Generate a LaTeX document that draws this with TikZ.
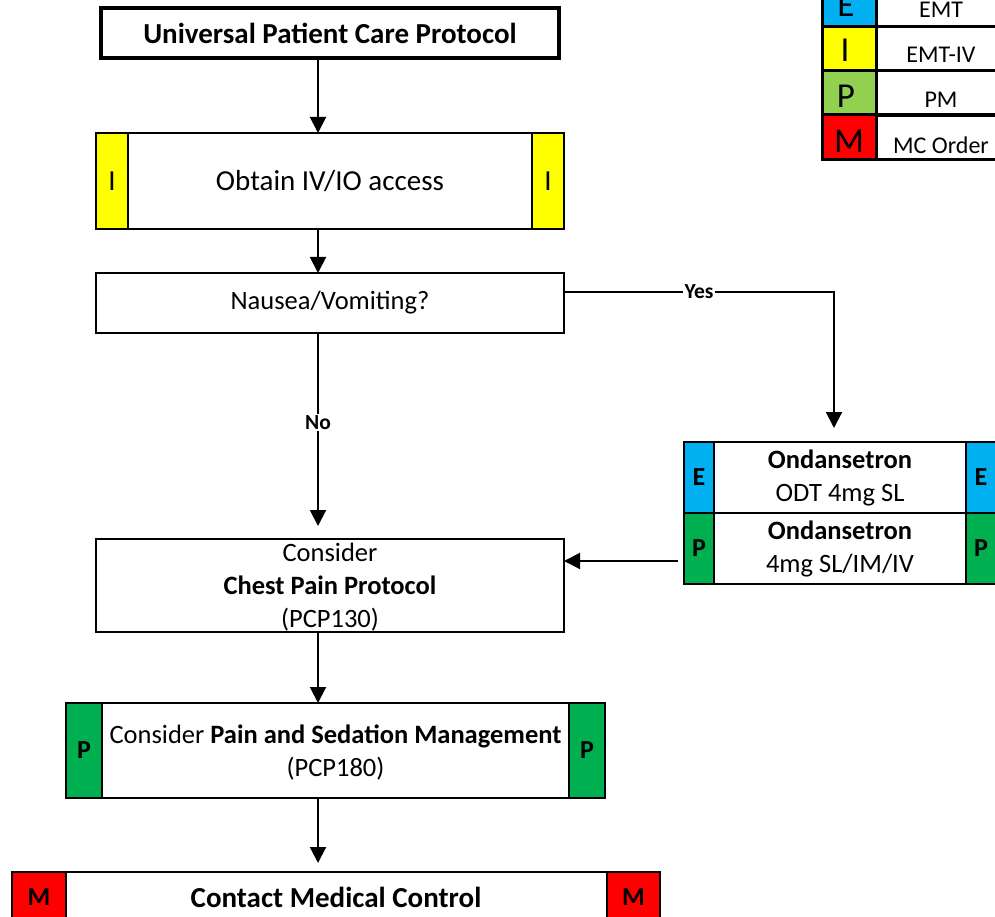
\documentclass[tikz,border=0pt]{standalone}
\usepackage{fontspec}
\setmainfont{Carlito}
\usetikzlibrary{arrows.meta}
\definecolor{cblue}{HTML}{00B0F0}
\definecolor{cyellow}{HTML}{FFFF00}
\definecolor{cgreen}{HTML}{00B050}
\definecolor{clgreen}{HTML}{92D050}
\definecolor{cred}{HTML}{FF0000}
\begin{document}
\begin{tikzpicture}[x=1pt,y=-1pt,
  box/.style={draw,line width=2pt,rectangle,inner sep=0pt,outer sep=0pt,align=center,font=\fontsize{26.5}{33}\selectfont},
  bar/.style={draw,line width=2pt,rectangle,inner sep=0pt,outer sep=0pt,font=\fontsize{26}{30}\selectfont\bfseries},
  arr/.style={line width=2pt,-{Triangle[length=16pt,width=16pt]}},
  lbl/.style={font=\fontsize{21.5}{25}\selectfont\bfseries,fill=white,inner sep=1.5pt},
  legcell/.style={draw,line width=3pt,rectangle,inner sep=0pt,outer sep=0pt,minimum height=44.5pt},
  legletter/.style={font=\fontsize{35}{40}\selectfont},
  legtext/.style={font=\fontsize{24}{28}\selectfont,anchor=base}]
\useasboundingbox (0,0) rectangle (995,917);
\clip (0,0) rectangle (995,917);

\coordinate (ax) at (318,0);
\coordinate (yx) at (834,0);
\coordinate (yesy) at (0,292);
\coordinate (chy) at (0,561);

% title
\node[box,line width=3.5pt,minimum width=458pt,minimum height=50pt,font=\fontsize{29}{34}\selectfont\bfseries] (title) at (330,33) {Universal Patient Care Protocol};

% obtain
\node[box,minimum width=468pt,minimum height=96pt,font=\fontsize{29}{34}\selectfont] (obtain) at (330,181) {Obtain IV/IO access};
\node[bar,fill=cyellow,minimum width=32pt,minimum height=96pt,font=\fontsize{29}{34}\selectfont] (obl) at (112,181) {I};
\node[bar,fill=cyellow,minimum width=32pt,minimum height=96pt,font=\fontsize{29}{34}\selectfont] (obr) at (548,181) {I};

% nausea
\node[box,minimum width=468pt,minimum height=60pt] (nausea) at (330,303) {Nausea/Vomiting?};

% chest
\node[box,minimum width=468pt,minimum height=93pt] (chest) at (330,585.5) {\rule{0pt}{22pt}Consider\\\textbf{Chest Pain Protocol}\\(PCP130)};

% ondansetron
\node[box,minimum width=312pt,minimum height=71pt] (ond1) at (840,477.5) {\textbf{Ondansetron}\\ODT 4mg SL};
\node[box,minimum width=312pt,minimum height=71pt] (ond2) at (840,548.5) {\textbf{Ondansetron}\\4mg SL/IM/IV};
\node[bar,fill=cblue,minimum width=30pt,minimum height=71pt] (o1l) at (699,477.5) {E};
\node[bar,fill=cblue,minimum width=30pt,minimum height=71pt] (o1r) at (981,477.5) {E};
\node[bar,fill=cgreen,minimum width=30pt,minimum height=71pt] (o2l) at (699,548.5) {P};
\node[bar,fill=cgreen,minimum width=30pt,minimum height=71pt] (o2r) at (981,548.5) {P};

% pain
\node[box,minimum width=539pt,minimum height=95pt] (pain) at (335.5,750.5) {\rule{0pt}{22pt}Consider \textbf{Pain and Sedation Management}\\(PCP180)};
\node[bar,fill=cgreen,minimum width=36pt,minimum height=95pt] (pl) at (84,750.5) {P};
\node[bar,fill=cgreen,minimum width=36pt,minimum height=95pt] (pr) at (587,750.5) {P};

% bottom
\node[box,line width=2.5pt,minimum width=648pt,minimum height=50pt,font=\fontsize{29}{34}\selectfont\bfseries] (mc) at (336,897) {Contact Medical Control};
\node[bar,line width=2.5pt,fill=cred,minimum width=54pt,minimum height=50pt] (ml) at (39,897) {M};
\node[bar,line width=2.5pt,fill=cred,minimum width=53pt,minimum height=50pt] (mr) at (633.5,897) {M};

% legend
\node[legcell,fill=cblue,minimum width=54pt] (le) at (849,4) {};
\node[legcell,fill=cyellow,minimum width=54pt] (li) at (849,48.5) {};
\node[legcell,fill=clgreen,minimum width=54pt] (lp) at (849,93) {};
\node[legcell,fill=cred,minimum width=54pt] (lm) at (849,137) {};
\node[legcell,minimum width=134pt] (te) at (943,4) {};
\node[legcell,minimum width=134pt] (ti) at (943,48.5) {};
\node[legcell,minimum width=134pt] (tp) at (943,93) {};
\node[legcell,minimum width=134pt] (tm) at (943,137) {};
\node[legletter] (lle) at (846,5) {E};
\node[legletter] (lli) at (845,50) {I};
\node[legletter] (llp) at (846,96) {P};
\node[legletter] (llm) at (849,141) {M};
\node[legtext] (tte) at (941,18) {EMT};
\node[legtext] (tti) at (941,63) {EMT-IV};
\node[legtext] (ttp) at (941,108) {PM};
\node[legtext] (ttm) at (941,154) {MC Order};

% connectors
\draw[arr] (ax |- title.south) -- (ax |- obtain.north);
\draw[arr] (ax |- obtain.south) -- (ax |- nausea.north);
\draw[arr] (ax |- nausea.south) -- node[lbl,pos=0.466] (no) {No} ([yshift=13pt]ax |- chest.north);
\draw[arr] (nausea.east |- yesy) -- node[lbl,pos=0.5] (yes) {Yes} (yx |- yesy) -- ([yshift=14pt]yx |- ond1.north);
\draw[arr] ([xshift=-6pt]ond2.west |- chy) -- (chest.east |- chy);
\draw[arr] (ax |- chest.south) -- (ax |- pain.north);
\draw[arr] (ax |- pain.south) -- ([yshift=9pt]ax |- mc.north);
\end{tikzpicture}
\end{document}
